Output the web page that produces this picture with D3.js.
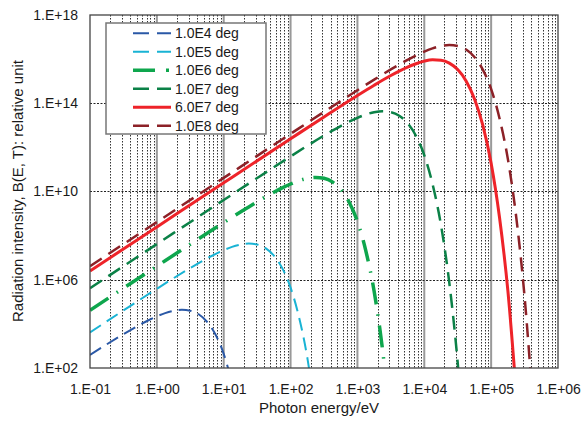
<!DOCTYPE html>
<meta charset="utf-8">
<script src="https://d3js.org/d3.v7.min.js"></script>
<body style="margin:0;background:#fff;">
<div id="my_dataviz"></div>
<script>

// data (photon energy in eV, intensity in relative units)
var seriesNames = ["1.0E4 deg", "1.0E5 deg", "1.0E6 deg", "1.0E7 deg", "6.0E7 deg", "1.0E8 deg"];

var energy1e4 = [0.1, 0.178, 0.316, 0.422, 0.562, 0.750, 1, 1.33, 1.78, 2.37, 3.16, 4.22, 5.62, 7.50, 10, 13.3];
var intens1e4 = [3.90e2, 1.18e3, 3.42e3, 5.70e3, 9.27e3, 1.46e4, 2.19e4, 3.08e4, 3.93e4, 4.36e4, 3.96e4, 2.72e4, 1.25e4, 3.36e3, 4.38e2, 2.16e1];

var energy1e5 = [0.1, 0.316, 1, 1.78, 3.16, 4.22, 5.62, 7.50, 10, 13.3, 17.8, 23.7, 31.6, 42.2, 56.2, 75.0, 100, 133, 178, 237];
var intens1e5 = [4.11e3, 4.06e4, 3.90e5, 1.18e6, 3.42e6, 5.70e6, 9.27e6, 1.46e7, 2.19e7, 3.08e7, 3.93e7, 4.36e7, 3.96e7, 2.72e7, 1.25e7, 3.36e6, 4.38e5, 2.16e4, 2.94e2, 7.13e-1];

var energy1e6 = [0.1, 1, 3.16, 10, 17.8, 31.6, 42.2, 56.2, 75.0, 100, 133, 178, 237, 316, 422, 562, 750, 1000, 1330, 1780, 2370, 3160];
var intens1e6 = [4.13e4, 4.11e6, 4.06e7, 3.90e8, 1.18e9, 3.42e9, 5.70e9, 9.27e9, 1.46e10, 2.19e10, 3.08e10, 3.93e10, 4.36e10, 3.96e10, 2.72e10, 1.25e10, 3.36e9, 4.38e8, 2.16e7, 2.94e5, 7.13e2, 1.75e-1];

var energy1e7 = [0.1, 1, 10, 31.6, 100, 178, 316, 422, 562, 750, 1000, 1330, 1780, 2370, 3160, 4220, 5620, 7500, 10000, 13300, 17800, 23700, 31600, 42200];
var intens1e7 = [4.13e5, 4.13e7, 4.11e9, 4.06e10, 3.90e11, 1.18e12, 3.42e12, 5.70e12, 9.27e12, 1.46e13, 2.19e13, 3.08e13, 3.93e13, 4.36e13, 3.96e13, 2.72e13, 1.25e13, 3.36e12, 4.38e11, 2.16e10, 2.94e8, 7.13e5, 1.75e2, 2.0e-3];

var energy6e7 = [0.1, 1, 10, 100, 316, 1000, 1780, 3160, 4220, 5620, 7500, 10000, 13300, 17800, 23700, 31600, 42200, 56200, 75000, 100000, 133000, 178000, 237000];
var intens6e7 = [2.48e6, 2.48e8, 2.48e10, 2.45e12, 2.40e13, 2.25e14, 6.58e14, 1.80e15, 2.85e15, 4.34e15, 6.19e15, 8.11e15, 9.33e15, 8.93e15, 6.59e15, 3.36e15, 1.03e15, 1.61e14, 1.01e13, 1.91e11, 7.14e8, 3.12e5, 7.71e0];

var energy1e8 = [0.1, 1, 10, 100, 316, 1000, 1780, 3160, 4220, 5620, 7500, 10000, 13300, 17800, 23700, 31600, 42200, 56200, 75000, 100000, 133000, 178000, 237000, 316000, 422000];
var intens1e8 = [4.13e6, 4.13e8, 4.13e10, 4.11e12, 4.06e13, 3.90e14, 1.18e15, 3.42e15, 5.70e15, 9.27e15, 1.46e16, 2.19e16, 3.08e16, 3.93e16, 4.36e16, 3.96e16, 2.72e16, 1.25e16, 3.36e15, 4.38e14, 2.16e13, 2.94e11, 7.13e8, 1.75e5, 2.0e0];

var xTicks = [1e-1, 1e0, 1e1, 1e2, 1e3, 1e4, 1e5, 1e6];
var xTickLabels = ["1.E-01", "1.E+00", "1.E+01", "1.E+02", "1.E+03", "1.E+04", "1.E+05", "1.E+06"];
var yTicks = [1e2, 1e6, 1e10, 1e14, 1e18];
var yTickLabels = ["1.E+02", "1.E+06", "1.E+10", "1.E+14", "1.E+18"];

// line styles
var colors = ["#2a58a6", "#19b3d4", "#0ea64d", "#0b8147", "#ee2329", "#8c2127"];
var widths = [2, 2, 3.5, 2.5, 3, 2.5];
var dashes = ["13,7", "13,7", "22,10,1.5,10", "14,8", null, "14,8"];

var series = [
  {e: energy1e4, b: intens1e4},
  {e: energy1e5, b: intens1e5},
  {e: energy1e6, b: intens1e6},
  {e: energy1e7, b: intens1e7},
  {e: energy6e7, b: intens6e7},
  {e: energy1e8, b: intens1e8}
].map(function(s, i) {
  return {name: seriesNames[i], pts: s.e.map(function(v, j) { return {e: v, b: s.b[j]}; })};
});

var W = 582, H = 422;
var margin = {top: 15, right: 24, bottom: 54, left: 90};
var font = "'Liberation Sans', Arial, sans-serif";

var svg = d3.select("#my_dataviz")
  .append("svg")
  .attr("width", W)
  .attr("height", H)
  .style("font-family", font);

var x = d3.scaleLog().domain([1e-1, 1e6]).range([margin.left, W - margin.right]);
var y = d3.scaleLog().domain([1e2, 1e18]).range([H - margin.bottom, margin.top]);

svg.append("clipPath").attr("id", "plotclip")
  .append("rect")
  .attr("x", x(1e-1)).attr("y", y(1e18))
  .attr("width", x(1e6) - x(1e-1)).attr("height", y(1e2) - y(1e18));

// minor vertical grid (2..9 in each decade)
var minor = [];
for (var k = -1; k < 6; k++) {
  for (var m = 2; m < 10; m++) minor.push(m * Math.pow(10, k));
}
svg.append("g").selectAll("line")
  .data(minor)
  .enter().append("line")
  .attr("x1", function(d) { return Math.round(x(d)) + 0.5; })
  .attr("x2", function(d) { return Math.round(x(d)) + 0.5; })
  .attr("y1", y(1e18)).attr("y2", y(1e2))
  .attr("stroke", "#333")
  .attr("stroke-width", 1)
  .attr("stroke-dasharray", "1.5,1.5");

// major vertical grid
svg.append("g").selectAll("line")
  .data(xTicks.slice(1, -1))
  .enter().append("line")
  .attr("x1", function(d) { return x(d); })
  .attr("x2", function(d) { return x(d); })
  .attr("y1", y(1e18)).attr("y2", y(1e2))
  .attr("stroke", "#999")
  .attr("stroke-width", 2);

// horizontal grid
svg.append("g").selectAll("line")
  .data(yTicks.slice(1, -1))
  .enter().append("line")
  .attr("x1", x(1e-1)).attr("x2", x(1e6))
  .attr("y1", function(d) { return Math.round(y(d)) + 0.5; })
  .attr("y2", function(d) { return Math.round(y(d)) + 0.5; })
  .attr("stroke", "#222")
  .attr("stroke-width", 1)
  .attr("stroke-dasharray", "2,1.5");

// curves
var line = d3.line()
  .x(function(d) { return x(d.e); })
  .y(function(d) { return y(d.b); })
  .curve(d3.curveMonotoneX);

svg.append("g")
  .attr("clip-path", "url(#plotclip)")
  .selectAll("path")
  .data(series)
  .enter().append("path")
  .attr("d", function(d) { return line(d.pts); })
  .attr("fill", "none")
  .attr("stroke", function(d, i) { return colors[i]; })
  .attr("stroke-width", function(d, i) { return widths[i]; })
  .attr("stroke-dasharray", function(d, i) { return dashes[i]; });

// plot frame
svg.append("rect")
  .attr("x", x(1e-1)).attr("y", y(1e18))
  .attr("width", x(1e6) - x(1e-1)).attr("height", y(1e2) - y(1e18))
  .attr("fill", "none")
  .attr("stroke", "#444")
  .attr("stroke-width", 1.3);

// axes
var xAxis = svg.append("g")
  .attr("transform", "translate(0," + y(1e2) + ")")
  .call(d3.axisBottom(x).tickValues(xTicks)
    .tickFormat(function(d, i) { return xTickLabels[i]; })
    .tickSize(0).tickPadding(16));
xAxis.select(".domain").remove();
xAxis.selectAll("text").style("font-size", "14px").style("font-family", font).attr("fill", "#1a1a1a");

var yAxis = svg.append("g")
  .attr("transform", "translate(" + x(1e-1) + ",0)")
  .call(d3.axisLeft(y).tickValues(yTicks)
    .tickFormat(function(d, i) { return yTickLabels[i]; })
    .tickSize(0).tickPadding(12));
yAxis.select(".domain").remove();
yAxis.selectAll("text").style("font-size", "14px").style("font-family", font).attr("fill", "#1a1a1a");

// axis titles
svg.append("text")
  .attr("x", 319).attr("y", 413)
  .attr("text-anchor", "middle")
  .style("font-size", "15px")
  .attr("fill", "#1a1a1a")
  .text("Photon energy/eV");

svg.append("text")
  .attr("transform", "translate(23,191) rotate(-90)")
  .attr("text-anchor", "middle")
  .style("font-size", "15px")
  .attr("fill", "#1a1a1a")
  .text("Radiation intensity, B(E, T): relative unit");

// legend
var legend = svg.append("g");
legend.append("rect")
  .attr("x", 106).attr("y", 23)
  .attr("width", 160).attr("height", 111)
  .attr("fill", "#fff")
  .attr("stroke", "#777")
  .attr("stroke-width", 1.5);

var rows = legend.selectAll("g.row")
  .data(series)
  .enter().append("g")
  .attr("class", "row")
  .attr("transform", function(d, i) { return "translate(0," + (33.3 + i * 18.5) + ")"; });

rows.append("line")
  .attr("x1", 133).attr("x2", 171)
  .attr("stroke", function(d, i) { return colors[i]; })
  .attr("stroke-width", function(d, i) { return widths[i]; })
  .attr("stroke-dasharray", function(d, i) { return i == 2 ? "22,11,3,11" : (dashes[i] ? "16,8" : null); });

rows.append("text")
  .attr("x", 175).attr("y", 5)
  .style("font-size", "14px")
  .attr("fill", "#1a1a1a")
  .text(function(d) { return d.name; });

</script>
